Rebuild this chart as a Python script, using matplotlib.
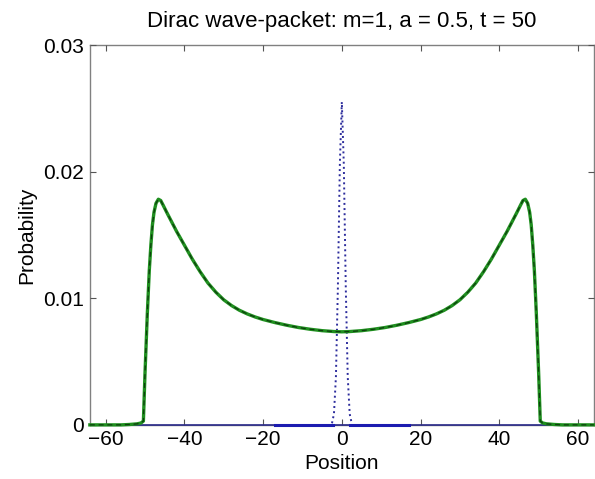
import matplotlib
matplotlib.use("Agg")
import matplotlib.pyplot as plt

plt.rcParams['font.family'] = ['Liberation Sans', 'DejaVu Sans']

# Probability after propagation (t = 50), symmetric about x = 0
pos_half = [-64, -56, -54, -52, -51, -50.4, -50.0, -49.4, -48.9, -48.5, -48.1,
            -47.7, -47.2, -46.6, -46.0, -45.3, -44.5, -43.5, -42.0, -40.0,
            -38.0, -36.0, -34.0, -32.0, -30.0, -28.0, -26.0, -24.0, -22.0,
            -20.0, -17.0, -14.0, -11.0, -8.0, -5.0, -2.0, 0.0]
prob_half = [0.0, 0.0, 0.00003, 0.00008, 0.00015, 0.0003, 0.0040, 0.0088,
             0.0122, 0.0142, 0.0158, 0.0168, 0.0175, 0.01782, 0.01772, 0.0173,
             0.0168, 0.0162, 0.0153, 0.0142, 0.0131, 0.0121, 0.0112, 0.01048,
             0.00988, 0.00942, 0.00905, 0.00876, 0.00852, 0.00832, 0.00808,
             0.00787, 0.00769, 0.00755, 0.00744, 0.00737, 0.00735]
position = pos_half + [-x for x in reversed(pos_half[:-1])]
probability = prob_half + list(reversed(prob_half[:-1]))

# Initial packet (t = 0)
init_pos = [-2.5, -2.0, -1.5, -1.0, -0.5, 0.0, 0.5, 1.0, 1.5, 2.0, 2.5]
init_prob = [0.00013, 0.00086, 0.0038, 0.0109, 0.0206, 0.0255,
             0.0206, 0.0109, 0.0038, 0.00086, 0.00013]

# Zero baseline of the initial packet's support
base_left = [-17.0, -2.2]
base_right = [2.2, 17.0]
base_zero = [0.0, 0.0]
full_span = [-64.0, 64.0]

xticks = [-60, -40, -20, 0, 20, 40, 60]
yticks = [0, 0.01, 0.02, 0.03]
yticklabels = ['0', '0.01', '0.02', '0.03']

fig = plt.figure(figsize=(5.95, 4.79), dpi=100)
ax = fig.add_axes([0.151, 0.113, 0.847, 0.793])

for s in ax.spines.values():
    s.set_color('#808080')
    s.set_linewidth(1.0)
    s.set_zorder(1)

ax.plot(full_span, base_zero, color='#2a2a8a', lw=1.2, zorder=3, clip_on=False)
ax.plot(base_left, base_zero, color='#1c1cb0', lw=2.2, zorder=3, clip_on=False)
ax.plot(base_right, base_zero, color='#1c1cb0', lw=2.2, zorder=3, clip_on=False)
ax.plot(init_pos, init_prob, color='#2c2c9c', lw=1.4, ls=':', zorder=4)
ax.plot(position, probability, color='#1f8f1f', lw=2.4, zorder=5, clip_on=False)
ax.plot(position, probability, color='#0d3d0d', lw=0.9, ls=(0, (4, 3)),
        zorder=6, clip_on=False)

ax.set_xlim(-64, 64)
ax.set_ylim(0, 0.03)
ax.set_xticks(xticks)
ax.set_yticks(yticks)
ax.set_yticklabels(yticklabels)
ax.tick_params(direction='in', top=True, right=True, length=4, width=0.8,
               color='#555555', labelsize=15, pad=4)

ax.set_title('Dirac wave-packet: m=1, a = 0.5, t = 50', fontsize=16, pad=13)
ax.set_xlabel('Position', fontsize=15, labelpad=3)
ax.set_ylabel('Probability', fontsize=15, labelpad=5)

fig.savefig('out.png', dpi=100)
